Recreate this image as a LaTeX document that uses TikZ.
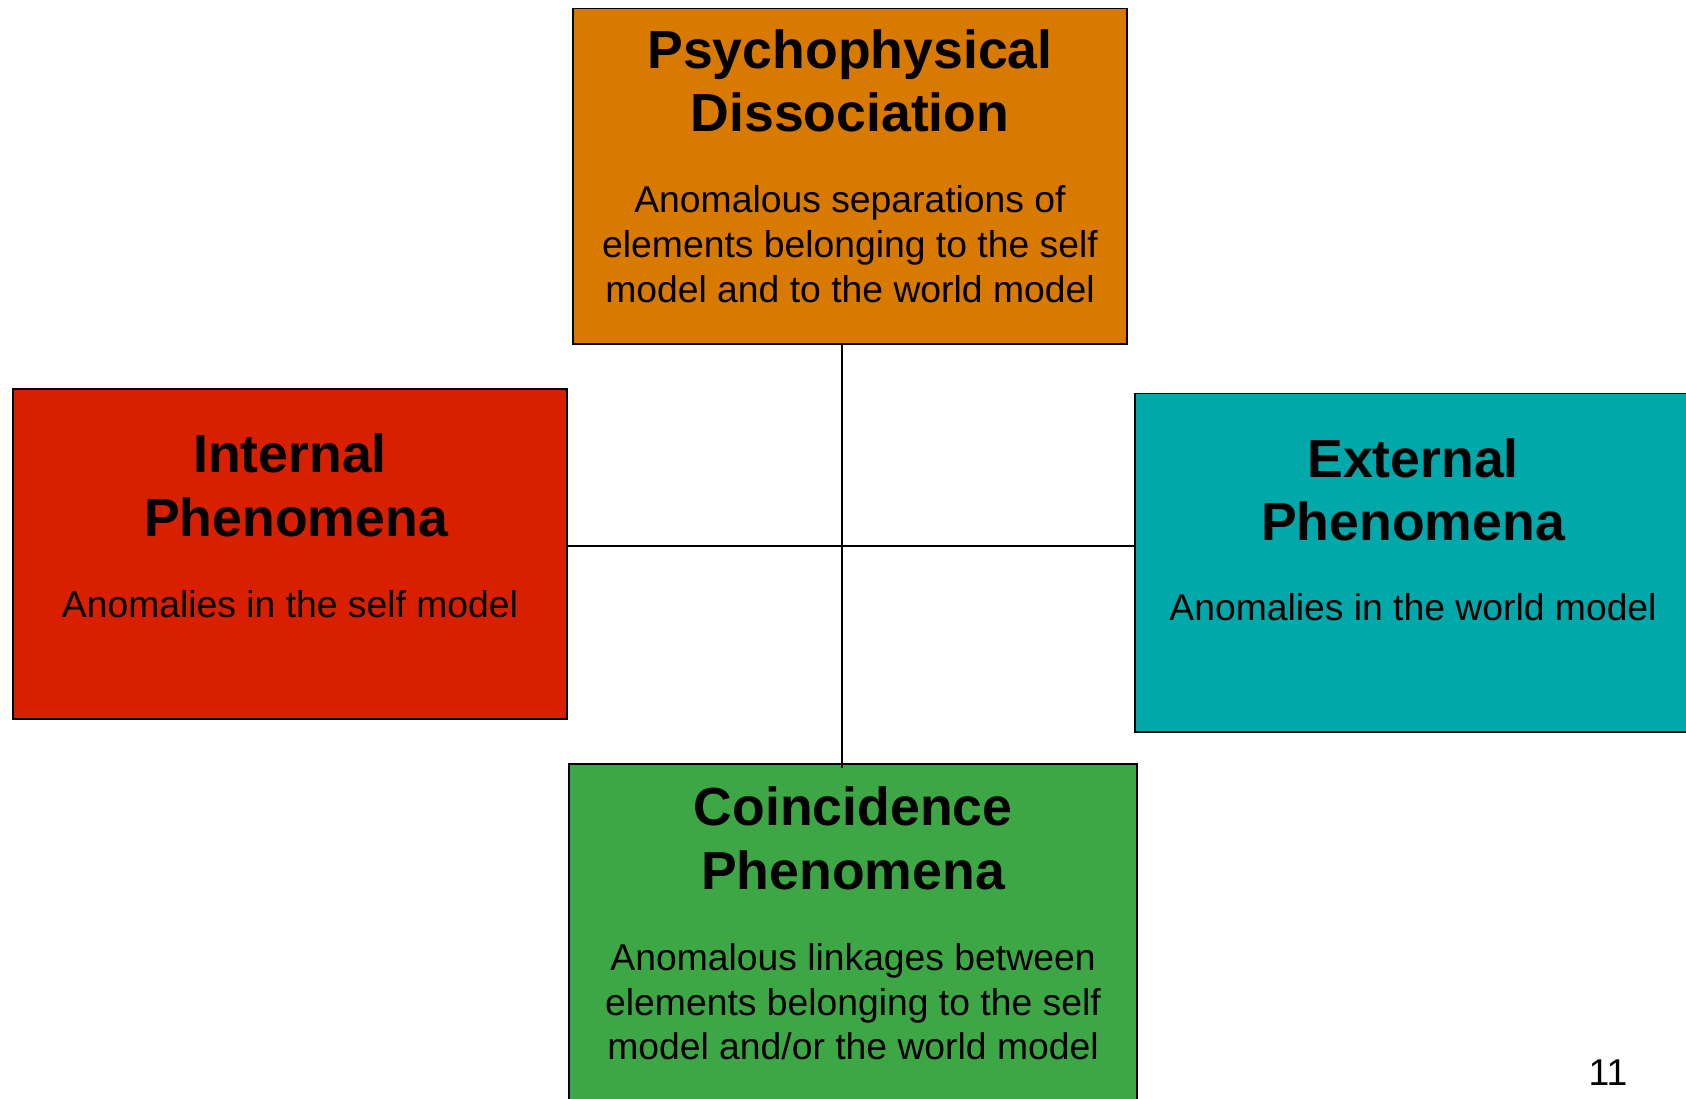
\documentclass[tikz,border=0pt]{standalone}
\usepackage{fontspec}
\setmainfont{Liberation Sans}
\definecolor{pdorange}{RGB}{217,122,0}
\definecolor{inred}{RGB}{216,32,0}
\definecolor{exteal}{RGB}{0,168,170}
\definecolor{cogreen}{RGB}{62,167,69}
\begin{document}
\begin{tikzpicture}[x=1pt,y=-1pt,
  box/.style={draw=black, line width=1.5pt, rectangle, inner sep=0pt},
  ttl/.style={anchor=base, inner sep=0pt, font=\fontsize{53.6}{60}\selectfont\bfseries},
  txt/.style={anchor=base, inner sep=0pt, font=\fontsize{37.3}{44}\selectfont},
  link/.style={draw=black, line width=2pt}]
\useasboundingbox (0,0) rectangle (1686,1099);
\begin{scope}
\clip (0,0) rectangle (1686,1099);
\node[box, fill=pdorange, minimum width=554pt, minimum height=335.4pt] (top) at (850,176.3) {};
\node[box, fill=inred, minimum width=554pt, minimum height=330pt] (left) at (290,554) {};
\node[box, fill=exteal, minimum width=565pt, minimum height=338.5pt] (right) at (1417.5,562.75) {};
\node[box, fill=cogreen, minimum width=568pt, minimum height=346pt] (bot) at (853,937) {};
\coordinate (c) at (842,546);
\draw[link] (top.south -| c) -- ([yshift=-5pt]bot.north -| c);
\draw[link] (left.east |- c) -- (right.west |- c);
\end{scope}
% top box text
\node[ttl] (t1) at (850,69) {Psychophysical};
\node[ttl] (t2) at (850,132) {Dissociation};
\node[txt] (t3) at (850,213) {Anomalous separations of};
\node[txt] (t4) at (850,258) {elements belonging to the self};
\node[txt] (t5) at (850,302) {model and to the world model};
% left box text
\node[ttl] (l1) at (290,472) {Internal};
\node[ttl] (l2) at (296,536) {Phenomena};
\node[txt] (l3) at (290,617) {Anomalies in the self model};
% right box text
\node[ttl] (r1) at (1413,477) {External};
\node[ttl] (r2) at (1413,540) {Phenomena};
\node[txt] (r3) at (1413,620) {Anomalies in the world model};
% bottom box text
\node[ttl] (b1) at (853,825) {Coincidence};
\node[ttl] (b2) at (853,889) {Phenomena};
\node[txt] (b3) at (853,970) {Anomalous linkages between};
\node[txt] (b4) at (853,1015) {elements belonging to the self};
\node[txt] (b5) at (853,1059) {model and/or the world model};
% page number
\node[txt] (pg) at (1608,1085) {11};
\end{tikzpicture}
\end{document}
